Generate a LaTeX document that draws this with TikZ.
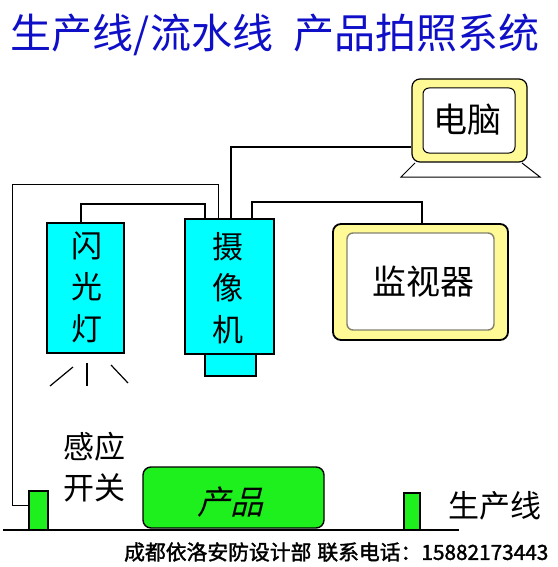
\documentclass[tikz,border=0pt]{standalone}
\usepackage{fontspec}
\newfontfamily\cjk{Noto Sans CJK SC}
\newfontfamily\cjkslant[FakeSlant=0.25]{Noto Sans CJK SC}
\newfontfamily\cjkbold[FakeBold=1.6]{Noto Sans CJK SC}
\definecolor{cyanf}{RGB}{0,255,255}
\definecolor{yelf}{RGB}{255,250,150}
\definecolor{greenf}{RGB}{30,240,30}
\definecolor{titleblue}{RGB}{15,15,200}
\definecolor{innergray}{RGB}{130,130,110}
\begin{document}
\begin{tikzpicture}[x=1pt,y=-1pt,
  wire/.style={line width=1.8pt},
  thinwire/.style={line width=1pt},
  cyanbox/.style={draw, line width=1.8pt, fill=cyanf, inner sep=0pt, rectangle},
  yelbox/.style={draw, line width=1.2pt, fill=yelf, rounded corners=8pt, inner sep=0pt, rectangle},
  whitebox/.style={draw, line width=1pt, fill=white, rounded corners=6pt, inner sep=0pt, rectangle},
  greenbox/.style={draw, line width=1.4pt, fill=greenf, inner sep=0pt, rectangle},
  vlabel/.style={align=center, font=\cjk\fontsize{31}{41.5}\selectfont},
  biglabel/.style={font=\cjk\fontsize{34}{40}\selectfont},
  plainlabel/.style={font=\cjk\fontsize{31}{41}\selectfont},
  ray/.style={line width=1.2pt}]
\path[use as bounding box] (0,0) rectangle (557,567);
\clip (0,0) rectangle (557,567);
% title
\node[text=titleblue, font=\cjk\fontsize{41}{45}\selectfont, inner sep=0pt] (title) at (275,35) {生产线/流水线\hspace{20pt}产品拍照系统};
% computer
\node[yelbox, minimum width=115pt, minimum height=83pt] (comp) at (469.5,120.5) {};
\node[whitebox, minimum width=92pt, minimum height=65pt] (compin) at (469,120.5) {};
\node[biglabel] (comptxt) at (467,120) {电脑};
\draw[line width=1pt] (415,163) -- (401,177) -- (540,177) -- (522,163);
% monitor
\node[yelbox, line width=1.8pt, minimum width=175pt, minimum height=116pt] (mon) at (420.5,282) {};
\node[whitebox, draw=innergray, line width=1.4pt, minimum width=147pt, minimum height=97pt] (monin) at (420.5,281.5) {};
\node[biglabel] (montxt) at (423,282) {监视器};
% flash
\node[cyanbox, minimum width=77pt, minimum height=130pt] (flash) at (85.5,288) {};
\node[vlabel] (flashtxt) at (87,287) {闪\\光\\灯};
% camera
\node[cyanbox, minimum width=89pt, minimum height=135pt] (cam) at (229.5,286.5) {};
\node[cyanbox, minimum width=51pt, minimum height=22pt] (lens) at (230.5,365) {};
\node[vlabel] (camtxt) at (228,288) {摄\\像\\机};
% flash rays
\draw[ray] (73,367) -- (50,386);
\draw[ray] (87,363) -- (87,386);
\draw[ray] (111,365) -- (128,383);
% production line
\coordinate (gl) at (3,530);
\coordinate (gr) at (459,530);
\node[greenbox, minimum width=19pt, minimum height=39pt] (sw1) at (38.5,510.5) {};
\node[greenbox, minimum width=16pt, minimum height=37pt] (sw2) at (412,511.5) {};
\node[greenbox, rounded corners=8pt, minimum width=181pt, minimum height=61pt] (prod) at (233.5,497.5) {};
\node[font=\cjkslant\fontsize{33}{33}\selectfont] (prodtxt) at (230,502) {产品};
\draw[line width=2pt] (gl) -- (gr);
\node[plainlabel, align=left] (swtxt) at (94,467) {感应\\开关};
\node[plainlabel] (linetxt) at (494.5,506) {生产线};
% wires
\coordinate (bendA) at (12,184);
\draw[thinwire] ([xshift=34pt]cam.north west) |- (bendA) |- ([yshift=5.5pt]sw1.west);
\draw[wire] ([xshift=35pt]flash.north west) -- ++(0,-18) -| ([xshift=21pt]cam.north west);
\draw[wire] ([xshift=47pt]cam.north west) |- ([yshift=-26.5pt]comp.west);
\draw[wire] ([xshift=68pt]cam.north west) -- ++(0,-16) -| ([xshift=1.5pt]mon.north);
% footer
\node[font=\cjkbold\fontsize{20.8}{24}\selectfont, anchor=west, inner sep=0pt] (footer) at (124,552) {成都依洛安防设计部\hspace{6pt}联系电话：15882173443};
\end{tikzpicture}
\end{document}
